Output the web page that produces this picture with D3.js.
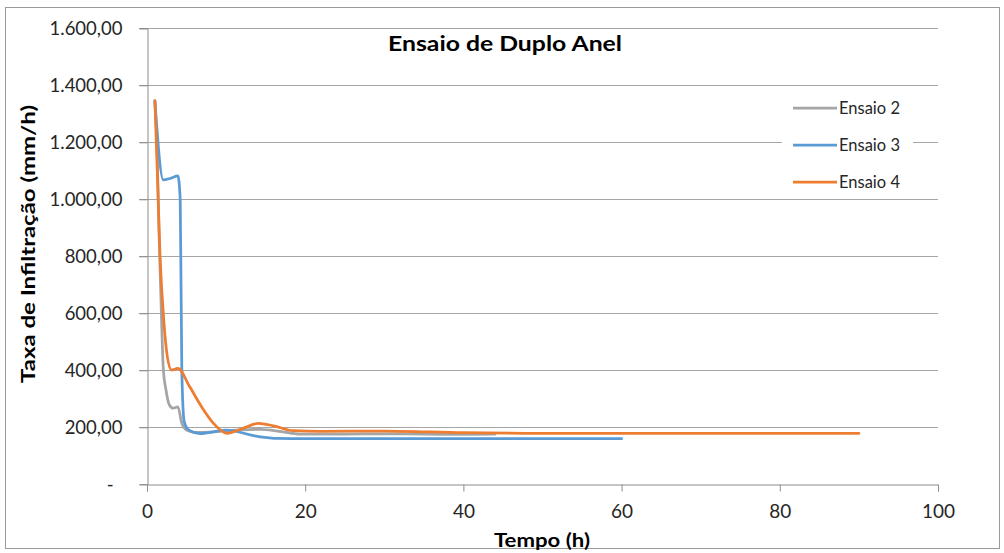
<!DOCTYPE html>
<html>
<head>
<meta charset="utf-8">
<script src="https://cdn.jsdelivr.net/npm/d3@7"></script>
<style>
  html, body { margin: 0; padding: 0; background: #fff; }
  svg { display: block; font-family: Lato, "Open Sans", sans-serif; }
</style>
</head>
<body>
<svg id="chart" width="1004" height="553"></svg>
<script>
// Double-ring infiltration tests: time (h) vs. infiltration rate (mm/h)
const seriesNames = ["Ensaio 2", "Ensaio 3", "Ensaio 4"];
const seriesColors = ["#A5A5A5", "#5B9BD5", "#ED7D31"];

const ensaio2Time = [1, 1.3, 1.5, 1.73, 2.07, 2.4, 2.8, 3.3, 3.9, 4.4, 5.0, 6, 8, 10, 14.3, 17, 19.3, 25, 30, 35, 40, 44];
const ensaio2Rate = [1345, 1150, 900, 682, 401, 331, 280, 267, 272, 214, 190, 182, 183, 188, 193, 185, 176, 176, 177, 176, 175, 176];

const ensaio3Time = [1, 2.07, 3, 3.9, 4.2, 4.4, 4.7, 5.3, 6.7, 10, 14, 16.5, 20, 30, 40, 50, 60];
const ensaio3Rate = [1345, 1068, 1074, 1082, 1000, 400, 220, 190, 178, 190, 168, 161, 160, 160, 160, 160, 160];

const ensaio4Time = [1, 1.3, 1.65, 2.15, 2.57, 3.1, 3.9, 5.4, 6.9, 8.4, 10.1, 12, 14.1, 16, 18.5, 22, 30, 40, 50, 60, 70, 80, 90];
const ensaio4Rate = [1345, 1100, 800, 565, 448, 401, 407, 342, 272, 214, 179, 195, 214, 205, 188, 186, 187, 181, 179, 179, 179, 179, 179];

const xTicks = [0, 20, 40, 60, 80, 100];
const yTicks = [0, 200, 400, 600, 800, 1000, 1200, 1400, 1600];

const chartTitle = "Ensaio de Duplo Anel";
const xTitle = "Tempo (h)";
const yTitle = "Taxa de Infiltração (mm/h)";

const series = [
  { name: seriesNames[0], color: seriesColors[0], t: ensaio2Time, v: ensaio2Rate },
  { name: seriesNames[1], color: seriesColors[1], t: ensaio3Time, v: ensaio3Rate },
  { name: seriesNames[2], color: seriesColors[2], t: ensaio4Time, v: ensaio4Rate }
];

const svg = d3.select("#chart");
const W = 1004, H = 553;
const plot = { left: 147, right: 938, top: 28.3, bottom: 484.3 };

const x = d3.scaleLinear().domain([0, 100]).range([plot.left, plot.right]);
const y = d3.scaleLinear().domain([0, 1600]).range([plot.bottom, plot.top]);

const ptBR = d3.formatLocale({ decimal: ",", thousands: ".", grouping: [3], currency: ["", ""] });
const fmt = ptBR.format(",.2f");
const yFormat = d => d === 0 ? "-" : fmt(d);

// outer frame
svg.append("rect")
  .attr("x", 5.5).attr("y", 7.5).attr("width", W - 10).attr("height", H - 12)
  .attr("fill", "#fff").attr("stroke", "#9a9a9a").attr("stroke-width", 1);

// horizontal gridlines
svg.append("g")
  .selectAll("line")
  .data(yTicks.filter(d => d > 0))
  .join("line")
  .attr("x1", plot.left - 8).attr("x2", plot.right)
  .attr("y1", d => Math.round(y(d)) + 0.5).attr("y2", d => Math.round(y(d)) + 0.5)
  .attr("stroke", "#a6a6a6").attr("stroke-width", 1);

// y axis
const yAxis = svg.append("g")
  .attr("transform", `translate(${plot.left + 0.5},0)`)
  .call(d3.axisLeft(y).tickValues(yTicks).tickFormat(yFormat).tickSize(8).tickPadding(17));
yAxis.select(".domain").attr("stroke", "#8c8c8c");
yAxis.selectAll(".tick line").attr("stroke", "#8c8c8c");
yAxis.selectAll(".tick text")
  .attr("font-size", 18.5).attr("fill", "#262626").attr("font-family", "Lato, sans-serif")
  .filter(d => d === 0).attr("dx", -9);

// x axis
const xAxis = svg.append("g")
  .attr("transform", `translate(0,${Math.round(plot.bottom) + 0.5})`)
  .call(d3.axisBottom(x).tickValues(xTicks).tickFormat(d3.format("d")).tickSize(7).tickPadding(13));
xAxis.select(".domain").attr("stroke", "#8c8c8c");
xAxis.selectAll(".tick line").attr("stroke", "#8c8c8c");
xAxis.selectAll(".tick text")
  .attr("font-size", 19).attr("fill", "#262626").attr("font-family", "Lato, sans-serif");

// data lines
const line = d3.line()
  .x(d => x(d[0]))
  .y(d => y(d[1]))
  .curve(d3.curveMonotoneX);

svg.append("g")
  .selectAll("path")
  .data(series)
  .join("path")
  .attr("d", s => line(s.t.map((t, i) => [t, s.v[i]])))
  .attr("fill", "none")
  .attr("stroke", s => s.color)
  .attr("stroke-width", 2.75)
  .attr("stroke-linejoin", "round")
  .attr("stroke-linecap", "round");

// title
svg.append("text")
  .attr("x", 505).attr("y", 51)
  .attr("text-anchor", "middle")
  .attr("font-size", 21).attr("font-weight", "bold").attr("fill", "#000")
  .attr("textLength", 234).attr("lengthAdjust", "spacingAndGlyphs")
  .text(chartTitle);

// axis titles
svg.append("text")
  .attr("x", 542).attr("y", 547)
  .attr("text-anchor", "middle")
  .attr("font-size", 18).attr("font-weight", "bold").attr("fill", "#000")
  .attr("textLength", 96).attr("lengthAdjust", "spacingAndGlyphs")
  .text(xTitle);

svg.append("text")
  .attr("transform", "translate(35,244) rotate(-90)")
  .attr("text-anchor", "middle")
  .attr("font-size", 19).attr("font-weight", "bold").attr("fill", "#000")
  .attr("textLength", 278).attr("lengthAdjust", "spacingAndGlyphs")
  .text(yTitle);

// legend
const legend = svg.append("g");
legend.append("rect")
  .attr("x", 782).attr("y", 93).attr("width", 131).attr("height", 103)
  .attr("fill", "#fff");
const rows = legend.selectAll("g.row")
  .data(series)
  .join("g")
  .attr("class", "row")
  .attr("transform", (d, i) => `translate(0,${108 + i * 37})`);
rows.append("line")
  .attr("x1", 793).attr("x2", 837)
  .attr("stroke", d => d.color).attr("stroke-width", 2.75);
rows.append("text")
  .attr("x", 839).attr("y", 6)
  .attr("font-size", 16.5).attr("fill", "#262626")
  .text(d => d.name);
</script>
</body>
</html>
